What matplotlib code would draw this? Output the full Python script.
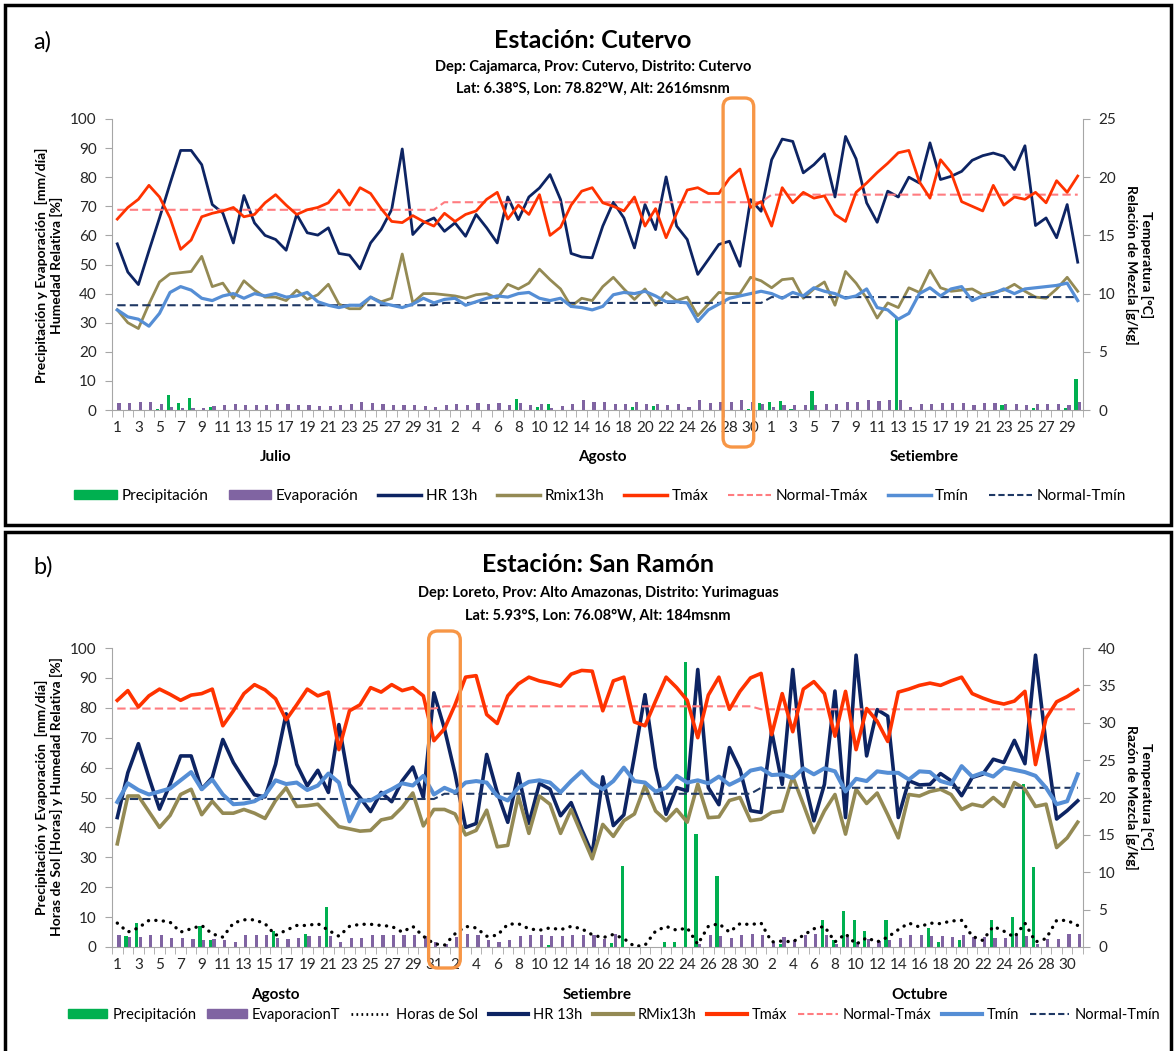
import matplotlib
matplotlib.use('Agg')
import matplotlib.pyplot as plt
import matplotlib.transforms as mtransforms
from matplotlib.patches import Rectangle, FancyBboxPatch, Patch
from matplotlib.lines import Line2D
import numpy as np

plt.rcParams['font.family'] = ['Lato', 'DejaVu Sans']

nan = np.nan

# ---------------- Estación Cutervo (jul - set) ----------------
months_a = ['Julio', 'Agosto', 'Setiembre']
month_days_a = [31, 31, 30]
hr_a = [57.1, 47.4, 43.1, 54.7, 66.0, 77.8, 89.2, 89.2, 84.3, 70.6, 67.7, 57.4, 73.7, 64.3, 60.0,
        58.6, 54.9, 67.2, 60.9, 60.1, 62.6, 53.8, 53.2, 48.5, 57.4, 62.0, 68.9, 89.7, 60.3, 64.3,
        66.0, 61.4, 64.3, 59.7, 67.2, 62.6, 57.4, 73.2, 65.4, 73.2, 76.3, 80.9, 72.3, 53.8, 52.6,
        52.3, 63.2, 71.4, 66.0, 55.7, 70.6, 62.0, 80.1, 63.2, 58.6, 46.6, 51.7, 56.9, 58.0, 49.4,
        72.3, 68.3, 86.0, 93.1, 92.3, 81.5, 84.3, 88.0, 73.2, 94.0, 86.3, 71.2, 64.5, 75.2, 73.2,
        80.0, 78.0, 91.8, 79.2, 80.3, 82.0, 85.8, 87.4, 88.3, 87.2, 82.6, 90.8, 63.4, 66.0, 59.2,
        70.6, 50.8]
tmax_a = [16.4, 17.4, 18.1, 19.3, 18.3, 16.5, 13.8, 14.6, 16.6, 16.9, 17.1, 17.4, 16.6, 16.8, 17.8,
          18.5, 17.6, 16.8, 17.2, 17.4, 17.8, 18.9, 17.6, 19.1, 18.6, 17.3, 16.2, 16.1, 16.7, 16.2,
          15.8, 16.9, 16.2, 16.8, 17.1, 18.1, 18.7, 16.4, 17.6, 16.8, 18.5, 15.0, 15.7, 17.6, 18.8,
          19.1, 17.8, 17.5, 17.1, 18.3, 15.8, 17.3, 14.8, 16.9, 18.9, 19.1, 18.6, 18.6, 19.9, 20.7,
          17.4, 17.9, 15.8, 19.1, 17.8, 18.7, 18.2, 18.4, 16.8, 16.2, 18.7, 19.5, 20.4, 21.2, 22.1,
          22.3, 19.6, 18.2, 21.5, 20.4, 17.9, 17.5, 17.1, 19.3, 17.6, 18.3, 18.1, 18.7, 17.8, 19.7,
          18.7, 20.1]
rmix_a = [8.6, 7.5, 7.0, 9.1, 11.0, 11.7, 11.8, 11.9, 13.2, 10.6, 10.9, 9.6, 11.1, 10.3, 9.7,
          9.7, 9.4, 10.3, 9.5, 9.9, 10.8, 9.1, 8.7, 8.7, 9.7, 9.3, 9.6, 13.4, 9.2, 10.0,
          10.0, 9.9, 9.8, 9.6, 9.9, 10.0, 9.6, 10.8, 10.4, 10.9, 12.1, 11.2, 10.4, 8.9, 9.6,
          9.4, 10.6, 11.4, 10.4, 9.5, 10.4, 9.0, 10.1, 9.4, 9.7, 8.1, 9.1, 10.1, 10.0, 10.0,
          11.4, 11.1, 10.5, 11.2, 11.3, 9.6, 10.4, 11.0, 9.0, 11.9, 10.9, 9.6, 7.9, 9.2, 8.8,
          10.5, 10.1, 12.0, 10.5, 10.2, 10.3, 10.4, 9.9, 10.1, 10.3, 10.8, 10.2, 9.7, 9.6, 10.4,
          11.4, 10.2]
tmin_a = [8.6, 8.0, 7.8, 7.2, 8.3, 10.1, 10.6, 10.3, 9.6, 9.4, 9.8, 10.0, 9.6, 10.0, 9.8,
          10.0, 9.7, 9.8, 10.1, 9.3, 9.0, 8.8, 9.0, 9.0, 9.7, 9.2, 9.0, 8.8, 9.1, 9.6,
          9.2, 9.5, 9.6, 9.0, 9.3, 9.6, 9.8, 9.7, 10.0, 10.1, 9.6, 9.4, 9.6, 8.9, 8.8,
          8.6, 8.9, 9.9, 10.1, 10.0, 10.2, 9.8, 9.3, 9.3, 9.2, 7.6, 8.6, 9.1, 9.6, 9.8,
          10.0, 10.2, 10.0, 9.6, 10.1, 9.8, 10.5, 10.2, 10.0, 9.6, 9.8, 10.4, 8.8, 8.6, 7.8,
          8.3, 10.0, 10.5, 9.8, 10.4, 10.6, 9.4, 9.8, 10.0, 10.4, 10.0, 10.4, 10.5, 10.6, 10.7,
          10.9, 9.4]
evap_a = [2.5, 2.5, 2.7, 2.7, 1.9, 1.1, 0.8, 0.6, 0.8, 1.4, 1.6, 1.9, 1.7, 1.6, 1.6,
          2.2, 1.9, 1.7, 1.6, 1.5, 1.4, 1.8, 2.1, 2.7, 2.5, 2.2, 1.6, 1.7, 1.7, 1.5,
          1.0, 1.6, 1.9, 1.6, 2.3, 1.9, 2.5, 1.7, 2.3, 1.6, 2.2, 0.8, 1.4, 1.9, 3.3,
          2.7, 2.7, 1.9, 1.9, 2.7, 1.9, 2.2, 1.7, 2.2, 1.0, 3.3, 2.3, 2.7, 2.7, 3.3,
          2.8, 1.9, 1.0, 1.7, 1.7, 1.7, 1.6, 1.9, 1.9, 2.7, 2.7, 3.3, 3.1, 3.3, 3.3,
          1.0, 2.2, 1.9, 2.5, 2.5, 2.5, 1.7, 2.5, 2.5, 1.9, 1.9, 1.7, 1.9, 1.9, 2.2,
          1.7, 2.9]
pp_a = [0, 0, 0, 0, 0.2, 5.1, 2.5, 4.2, 0, 1.0, 0, 0, 0, 0, 0,
        0, 0, 0, 0, 0, 0, 0, 0, 0, 0, 0, 0, 0, 0, 0,
        0, 0, 0, 0, 0, 0, 0, 0, 3.7, 0, 1.0, 1.9, 0, 0, 0,
        0, 0, 0, 0, 1.0, 0, 1.4, 0, 0, 0, 0, 0, 0, 0, 0,
        0.3, 2.5, 2.7, 3.1, 0.2, 0, 6.5, 0, 0, 0, 0, 0, 0, 0, 31.7,
        0, 0, 0, 0, 0, 0, 0, 0, 0, 1.6, 0, 0, 0.8, 0, 0,
        0.6, 10.5]
norm_tmax_a = [17.2, 17.85, 18.5]   # por mes
norm_tmin_a = [9.0, 9.2, 9.7]

# ---------------- Estación San Ramón (ago - oct) ----------------
months_b = ['Agosto', 'Setiembre', 'Octubre']
month_days_b = [31, 30, 31]
hr_b = [43.3, 58.3, 68.0, 56.7, 46.1, 54.4, 63.9, 63.9, 52.8, 56.7, 69.4, 61.7, 56.1, 50.9, 50.2,
        61.1, 78.0, 61.1, 53.9, 59.1, 51.7, 74.4, 54.4, 50.0, 45.3, 51.7, 48.6, 55.6, 60.2, 50.0,
        85.0, 73.0, 58.0, 40.0, 41.3, 64.4, 51.7, 41.7, 58.0, 41.3, 54.7, 52.8, 43.9, 48.3, 39.4,
        31.1, 56.9, 40.6, 44.2, 63.9, 84.4, 60.0, 44.4, 53.3, 52.2, 92.8, 53.3, 47.6, 66.7, 59.4,
        45.6, 45.0, 72.2, 54.4, 92.8, 57.2, 42.2, 54.4, 85.6, 43.3, 97.6, 63.9, 79.4, 77.2, 43.3,
        55.6, 54.2, 54.4, 58.0, 55.6, 50.6, 56.7, 57.8, 62.8, 61.7, 69.1, 61.3, 97.6, 67.8, 42.8,
        45.6, 48.9]
tmax_b = [33.0, 34.3, 32.1, 33.6, 34.5, 33.8, 33.0, 33.7, 33.9, 34.5, 29.6, 31.6, 33.9, 35.1, 34.4,
          33.2, 30.4, 32.4, 34.5, 33.6, 34.1, 26.4, 31.6, 32.4, 34.7, 34.1, 35.1, 34.3, 34.7, 33.6,
          27.6, 29.2, 32.4, 36.1, 36.3, 31.1, 29.9, 33.6, 35.2, 36.1, 35.6, 35.3, 34.9, 36.5, 37.0,
          36.9, 31.6, 35.6, 36.1, 30.1, 29.6, 32.9, 36.1, 34.7, 33.0, 28.0, 33.7, 36.1, 31.8, 34.2,
          36.0, 36.6, 28.4, 33.9, 28.8, 34.5, 35.5, 33.9, 28.2, 34.2, 26.4, 31.9, 30.2, 27.5, 34.1,
          34.5, 35.0, 35.3, 35.0, 35.6, 36.1, 33.9, 33.3, 32.8, 32.5, 32.9, 34.2, 24.4, 30.6, 32.8,
          33.5, 34.4]
rmix_b = [13.8, 20.2, 20.2, 18.1, 16.0, 17.6, 20.4, 21.1, 17.7, 19.5, 17.9, 17.9, 18.4, 17.9, 17.2,
          19.6, 21.3, 18.8, 18.9, 19.1, 17.6, 16.1, 15.8, 15.5, 15.6, 17.0, 17.3, 18.7, 20.6, 16.2,
          18.4, 18.4, 17.8, 15.0, 15.6, 18.3, 13.4, 13.6, 20.2, 15.2, 20.2, 19.1, 15.2, 18.4, 15.1,
          11.8, 16.4, 14.8, 16.9, 17.8, 21.6, 18.2, 16.9, 18.4, 16.7, 21.8, 17.3, 17.4, 19.6, 20.0,
          16.9, 17.1, 18.0, 18.2, 22.8, 19.1, 15.3, 18.2, 20.4, 15.1, 21.1, 19.2, 20.6, 17.7, 14.6,
          20.4, 20.2, 20.8, 21.1, 20.4, 18.4, 19.1, 18.8, 20.0, 18.8, 22.0, 21.1, 18.8, 19.1, 13.3,
          14.6, 16.7]
tmin_b = [19.4, 21.9, 21.0, 20.4, 20.8, 21.2, 22.3, 23.4, 21.1, 22.4, 20.4, 19.1, 19.2, 19.5, 20.3,
          22.3, 21.8, 22.0, 21.0, 21.6, 23.2, 22.0, 16.8, 19.6, 19.6, 20.4, 21.1, 21.9, 21.6, 22.9,
          20.4, 21.3, 20.7, 22.0, 22.2, 22.0, 20.2, 19.6, 21.3, 22.1, 22.3, 22.0, 20.7, 22.2, 23.5,
          22.0, 21.1, 22.2, 24.0, 22.2, 22.0, 20.8, 21.3, 22.9, 22.0, 22.3, 21.9, 22.8, 21.7, 22.4,
          23.6, 23.9, 23.0, 23.1, 22.6, 23.9, 23.1, 23.9, 23.5, 20.8, 22.5, 22.2, 23.5, 23.3, 23.3,
          22.4, 23.5, 23.4, 22.2, 21.8, 24.2, 22.8, 23.3, 22.8, 24.0, 23.7, 23.4, 22.9, 21.3, 19.1,
          19.5, 23.1]
evap_b = [4.1, 3.3, 3.3, 3.9, 3.9, 3.1, 3.1, 2.6, 2.2, 2.8, 2.2, 1.7, 3.9, 3.9, 3.9,
          3.1, 2.6, 3.1, 3.6, 3.6, 3.6, 1.7, 3.1, 3.1, 3.9, 3.9, 4.1, 3.9, 4.1, 3.7,
          1.7, 1.1, 3.3, 4.2, 3.9, 2.2, 1.7, 2.4, 3.6, 4.1, 4.1, 3.6, 3.6, 4.1, 4.1,
          4.1, 2.8, 4.2, nan, nan, nan, nan, nan, nan, nan, 1.0, 3.9, 3.7, 3.0, 3.9,
          4.4, 3.9, 1.7, 3.3, 2.4, 3.9, 4.4, 3.9, 0.9, 3.5, 1.7, 2.8, 1.9, 2.4, 3.0,
          3.9, 3.9, 3.7, 3.7, 3.5, 3.9, 3.5, 3.5, 3.1, 3.0, 3.9, 3.7, 1.1, 2.8, 2.8,
          4.2, 4.4]
pp_b = [0, 3.6, 8.1, 0, 0, 0, 0, 0, 6.9, 2.2, 0, 0, 0, 0, 0,
        5.3, 0, 0, 4.4, 0, 13.3, 0, 0, 0, 0, 0, 0, 0, 0, 0,
        0, 0, 0, 0, 0, 0, 0, 0, 0, 0, 0, 0.6, 0, 0, 0,
        0, 0, 1.3, 27.2, 0, 0, 0, 1.7, 1.7, 95.3, 37.8, 0, 23.6, 0, 0,
        0, 0, 0, 0.9, 0, 0, 0, 9.1, 2.2, 12.2, 9.1, 5.2, 0, 9.1, 0,
        0, 0, 6.4, 1.7, 0, 2.2, 0, 0, 9.1, 0, 10.2, 54.5, 26.9, 0, 0,
        0, 0]
sun_b = [8.0, 5.0, 6.4, 8.9, 8.9, 8.3, 5.0, 6.1, 7.2, 4.4, 3.3, 8.0, 9.1, 9.1, 7.8,
         3.9, 5.6, 7.2, 7.2, 7.8, 5.6, 3.6, 6.9, 7.6, 7.6, 7.2, 6.9, 5.0, 6.9, 3.6,
         1.1, 0.6, 4.4, 6.9, 6.4, 3.6, 3.9, 7.6, 7.8, 6.1, 5.6, 6.4, 5.8, 6.9, 6.1,
         4.1, 3.1, 4.2, 2.8, 0.2, 0.6, 5.3, 6.9, 5.6, 6.4, 0.9, 6.9, 7.8, 5.0, 7.8,
         7.5, 8.0, 1.7, 2.0, 1.7, 3.9, 6.1, 6.9, 1.7, 4.4, 0.9, 3.1, 1.7, 3.3, 5.8,
         8.0, 6.7, 8.0, 7.8, 8.7, 8.9, 3.6, 2.2, 6.9, 5.3, 3.3, 8.0, 1.7, 2.8, 8.9,
         8.9, 7.2]
norm_tmax_b = [31.9, 32.2, 31.8]
norm_tmin_b = [19.8, 20.5, 21.3]

# colores
C_PP = '#00b050'
C_EV = '#8064a2'
C_HR = '#0d2463'
C_RM = '#948a54'
C_TX = '#ff3300'
C_NTX = '#ff7c80'
C_TN = '#558ed5'
C_NTN = '#1f3864'
C_ORANGE = '#f79646'
C_AXIS = '#a6a6a6'

W, H = 1176, 1051
fig = plt.figure(figsize=(W / 100, H / 100), dpi=100)


def px_rect(left, top, right, bottom):
    return [left / W, 1 - bottom / H, (right - left) / W, (bottom - top) / H]


def draw_station(rect, months, month_days, pp, evap, hr, rmix, tmax, tmin,
                 ntmax, ntmin, rmax, lw, sun=None):
    n = sum(month_days)
    x = np.arange(n)
    ax = fig.add_axes(rect)
    ax.bar(x - 0.17, pp, width=0.3, color=C_PP, zorder=2)
    ax.bar(x + 0.17, evap, width=0.3, color=C_EV, zorder=2)
    if sun is not None:
        ax.plot(x, sun, color='black', lw=2.4, linestyle=(0, (0.05, 2.2)),
                dash_capstyle='round', zorder=3)
    ax.plot(x, hr, color=C_HR, lw=lw, zorder=4)
    ax.set_xlim(-0.5, n - 0.5)
    ax.set_ylim(0, 100)
    ax.set_yticks(np.arange(0, 101, 10))

    ax2 = ax.twinx()
    ax2.plot(x, rmix, color=C_RM, lw=lw)
    ax2.plot(x, np.repeat(ntmax, month_days), color=C_NTX, lw=1.5, linestyle=(0, (4, 2)))
    ax2.plot(x, np.repeat(ntmin, month_days), color=C_NTN, lw=1.5, linestyle=(0, (4, 2)))
    ax2.plot(x, tmin, color=C_TN, lw=lw + 0.3)
    ax2.plot(x, tmax, color=C_TX, lw=lw)
    ax2.set_ylim(0, rmax)
    ax2.set_yticks(np.arange(0, rmax + 1, 5))

    # etiquetas de días
    day_no = np.concatenate([np.arange(1, d + 1) for d in month_days])
    ax.set_xticks(x[::2])
    ax.set_xticklabels([str(d) for d in day_no[::2]])
    ax.set_xticks(np.arange(-0.5, n, 1), minor=True)
    ax.tick_params(axis='x', which='major', length=0, pad=8, labelsize=11, colors='#262626')
    ax.tick_params(axis='x', which='minor', length=5, color=C_AXIS)

    for a in (ax, ax2):
        for s in a.spines.values():
            s.set_visible(False)
        a.tick_params(axis='y', length=5, color=C_AXIS, labelsize=11, labelcolor='#262626', pad=6)
    ax.spines['left'].set_visible(True)
    ax.spines['bottom'].set_visible(True)
    ax2.spines['right'].set_visible(True)
    for s in (ax.spines['left'], ax.spines['bottom'], ax2.spines['right']):
        s.set_color(C_AXIS)

    # nombres de meses
    trans = mtransforms.blended_transform_factory(ax.transData, ax.transAxes)
    start = 0
    for m, d in zip(months, month_days):
        ax.text(start + (d - 1) / 2, -0.16, m, transform=trans, ha='center', va='center',
                fontsize=11, fontweight='bold')
        start += d
    return ax, ax2


def highlight(ax, i0, i1, top_px, bottom_px):
    # recuadro naranja sobre los días destacados
    x0 = ax.transData.transform((i0, 0))[0] / fig.dpi
    x1 = ax.transData.transform((i1, 0))[0] / fig.dpi
    bb = ax.get_position()
    y1 = bb.y1 * H / 100 + top_px / 100
    y0 = bb.y0 * H / 100 - bottom_px / 100
    box = FancyBboxPatch((x0, y0), x1 - x0, y1 - y0,
                         boxstyle='round,pad=0,rounding_size=0.09',
                         transform=fig.dpi_scale_trans, fill=False,
                         ec=C_ORANGE, lw=2.4, zorder=10, clip_on=False)
    fig.patches.append(box)


# ---------- panel a ----------
ax_a, ax2_a = draw_station(px_rect(112, 119, 1083, 410), months_a, month_days_a, pp_a, evap_a,
                           hr_a, rmix_a, tmax_a, tmin_a, norm_tmax_a, norm_tmin_a, 25, 2.0)
highlight(ax_a, 57.4, 60.3, 21, 37)

fig.text(33 / W, 1 - 42 / H, 'a)', fontsize=17, ha='left', va='center')
fig.text(593 / W, 1 - 40 / H, 'Estación: Cutervo', fontsize=18, fontweight='bold',
         ha='center', va='center')
fig.text(593 / W, 1 - 67 / H, 'Dep: Cajamarca, Prov: Cutervo, Distrito: Cutervo',
         fontsize=10.5, fontweight='bold', ha='center', va='center')
fig.text(593 / W, 1 - 89 / H, 'Lat: 6.38°S, Lon: 78.82°W, Alt: 2616msnm',
         fontsize=10.5, fontweight='bold', ha='center', va='center')
fig.text(49 / W, 1 - 265 / H, 'Precipitación y Evaporación  [mm/día]\nHumedad Relativa [%]',
         rotation=90, fontsize=10, fontweight='bold', ha='center', va='center', linespacing=1.25)
fig.text(1139 / W, 1 - 265 / H, 'Temperatura [°C]\nRelación de Mezcla [g/kg]',
         rotation=-90, fontsize=10, fontweight='bold', ha='center', va='center', linespacing=1.25)

handles_a = [Patch(color=C_PP), Patch(color=C_EV),
             Line2D([], [], color=C_HR, lw=2.5), Line2D([], [], color=C_RM, lw=2.5),
             Line2D([], [], color=C_TX, lw=2.5), Line2D([], [], color=C_NTX, lw=1.5, ls=(0, (3, 1.5))),
             Line2D([], [], color=C_TN, lw=2.5), Line2D([], [], color=C_NTN, lw=1.5, ls=(0, (3, 1.5)))]
labels_a = ['Precipitación', 'Evaporación', 'HR 13h', 'Rmix13h', 'Tmáx', 'Normal-Tmáx',
            'Tmín', 'Normal-Tmín']
fig.legend(handles_a, labels_a, loc='center', bbox_to_anchor=(600 / W, 1 - 496 / H), ncol=8,
           frameon=False, fontsize=11, handlelength=2.8, handleheight=0.6, handletextpad=0.3,
           columnspacing=1.3)

# ---------- panel b ----------
ax_b, ax2_b = draw_station(px_rect(112, 648, 1083, 947), months_b, month_days_b, pp_b, evap_b,
                           hr_b, rmix_b, tmax_b, tmin_b, norm_tmax_b, norm_tmin_b, 40, 2.6,
                           sun=sun_b)
highlight(ax_b, 29.5, 32.5, 17, 21)

fig.text(33 / W, 1 - 567 / H, 'b)', fontsize=17, ha='left', va='center')
fig.text(598 / W, 1 - 565 / H, 'Estación: San Ramón', fontsize=18, fontweight='bold',
         ha='center', va='center')
fig.text(598 / W, 1 - 593 / H, 'Dep: Loreto, Prov: Alto Amazonas, Distrito: Yurimaguas',
         fontsize=10.5, fontweight='bold', ha='center', va='center')
fig.text(598 / W, 1 - 616 / H, 'Lat: 5.93°S, Lon: 76.08°W, Alt: 184msnm',
         fontsize=10.5, fontweight='bold', ha='center', va='center')
fig.text(49 / W, 1 - 797 / H,
         'Precipitación y Evaporación  [mm/día]\nHoras de Sol [Horas] y Humedad Relativa [%]',
         rotation=90, fontsize=10, fontweight='bold', ha='center', va='center', linespacing=1.25)
fig.text(1139 / W, 1 - 797 / H, 'Temperatura [°C]\nRazón de Mezcla [g/kg]',
         rotation=-90, fontsize=10, fontweight='bold', ha='center', va='center', linespacing=1.25)

handles_b = [Patch(color=C_PP), Patch(color=C_EV),
             Line2D([], [], color='black', lw=2, ls=(0, (0.6, 1.2))),
             Line2D([], [], color=C_HR, lw=3), Line2D([], [], color=C_RM, lw=3),
             Line2D([], [], color=C_TX, lw=3), Line2D([], [], color=C_NTX, lw=1.5, ls=(0, (3, 1.5))),
             Line2D([], [], color=C_TN, lw=3), Line2D([], [], color=C_NTN, lw=1.5, ls=(0, (3, 1.5)))]
labels_b = ['Precipitación', 'EvaporacionT', 'Horas de Sol', 'HR 13h', 'RMix13h', 'Tmáx',
            'Normal-Tmáx', 'Tmín', 'Normal-Tmín']
fig.legend(handles_b, labels_b, loc='center', bbox_to_anchor=(614 / W, 1 - 1015 / H), ncol=9,
           frameon=False, fontsize=10.5, handlelength=2.7, handleheight=0.6, handletextpad=0.35,
           columnspacing=0.75, borderpad=0.1)

# marcos de cada panel
fig.patches.append(Rectangle((5 / W, 1 - 525 / H), 1166 / W, 520 / H, transform=fig.transFigure,
                             fill=False, ec='black', lw=2.5))
fig.patches.append(Rectangle((5 / W, -0.02), 1166 / W, (1051 - 532) / H + 0.02,
                             transform=fig.transFigure, fill=False, ec='black', lw=2.5))

fig.savefig('out.png', dpi=100)
